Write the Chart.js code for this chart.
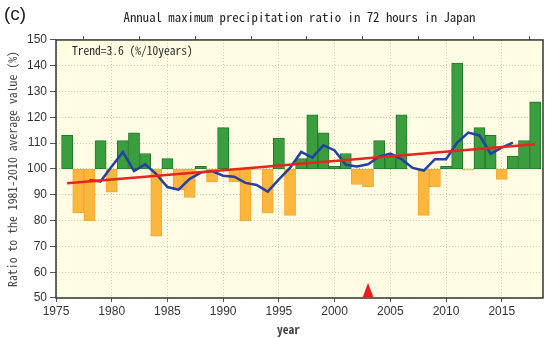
<!DOCTYPE html>
<html>
<head>
<meta charset="utf-8">
<script src="https://cdn.jsdelivr.net/npm/chart.js@4/dist/chart.umd.min.js"></script>
<style>
  html, body { margin: 0; padding: 0; background: #ffffff; }
  #wrap { width: 545px; height: 338px; position: relative; }
</style>
</head>
<body>
<div id="wrap"><canvas id="chart" width="545" height="338"></canvas></div>
<script>
// Annual maximum 72-hour precipitation, ratio to the 1981-2010 average (%)
const years = [1976, 1977, 1978, 1979, 1980, 1981, 1982, 1983, 1984, 1985,
               1986, 1987, 1988, 1989, 1990, 1991, 1992, 1993, 1994, 1995,
               1996, 1997, 1998, 1999, 2000, 2001, 2002, 2003, 2004, 2005,
               2006, 2007, 2008, 2009, 2010, 2011, 2012, 2013, 2014, 2015,
               2016, 2017, 2018];
const ratios = [113, 83, 80, 111, 91, 111, 114, 106, 74, 104,
                92, 89, 101, 95, 116, 95, 80, 99.8, 83, 112,
                82, 104, 121, 114, 101, 106, 94, 93, 111, 105,
                121, 100, 82, 93, 101, 141, 99.5, 116, 113, 96,
                105, 111, 126];

// 5-year running mean
const meanYears = [1978, 1979, 1980, 1981, 1982, 1983, 1984, 1985, 1986, 1987,
                   1988, 1989, 1990, 1991, 1992, 1993, 1994, 1995, 1996, 1997,
                   1998, 1999, 2000, 2001, 2002, 2003, 2004, 2005, 2006, 2007,
                   2008, 2009, 2010, 2011, 2012, 2013, 2014, 2015, 2016];
const meanValues = [95.6, 95.2, 101.0, 106.6, 99.2, 101.8, 98.0, 93.0, 92.0, 96.2,
                    98.6, 99.2, 97.4, 97.0, 94.6, 93.8, 91.2, 96.0, 100.4, 106.6,
                    104.4, 109.2, 107.2, 101.6, 101.0, 101.8, 104.8, 106.0, 103.8, 100.4,
                    99.4, 103.8, 103.8, 110.2, 114.1, 113.0, 105.9, 108.3, 110.2];

// Long-term linear trend (3.6 %/10 years)
const trendYears = [1976, 2018];
const trendValues = [94.5, 109.6];

// Year marked with a triangle on the horizontal axis
const markerYears = [2003];

const xTickValues = [1975, 1980, 1985, 1990, 1995, 2000, 2005, 2010, 2015];
const yTickValues = [50, 60, 70, 80, 90, 100, 110, 120, 130, 140, 150];

const BASE = 100;
const MONO = "'Noto Sans Mono CJK JP', 'DejaVu Sans Mono', monospace";
const SANS = "'Liberation Sans', Arial, sans-serif";

const decor = {
  id: 'decor',
  beforeDraw(chart) {
    const { ctx, chartArea: a } = chart;
    ctx.save();
    ctx.fillStyle = '#fffce3';
    ctx.fillRect(a.left, a.top, a.right - a.left, a.bottom - a.top);
    ctx.restore();
  },
  afterDraw(chart) {
    const { ctx, chartArea: a, scales } = chart;
    ctx.save();
    // plot frame
    ctx.strokeStyle = '#333333';
    ctx.lineWidth = 1.5;
    ctx.strokeRect(a.left, a.top, a.right - a.left, a.bottom - a.top);

    // triangle marker standing on the bottom axis
    ctx.fillStyle = '#ee1c1c';
    markerYears.forEach(yr => {
      const px = scales.x.getPixelForValue(yr);
      const py = scales.y.getPixelForValue(scales.y.min);
      ctx.beginPath();
      ctx.moveTo(px - 5.5, py - 0.5);
      ctx.lineTo(px + 5.5, py - 0.5);
      ctx.lineTo(px, py - 15);
      ctx.closePath();
      ctx.fill();
    });

    // trend annotation
    ctx.fillStyle = '#2a2a2a';
    ctx.textBaseline = 'middle';
    ctx.textAlign = 'left';
    ctx.font = '11.5px ' + MONO;
    ctx.fillText('Trend=3.6 (%/10years)', a.left + 16, a.top + 11);

    // panel label
    ctx.font = '19px ' + SANS;
    ctx.fillStyle = '#222222';
    ctx.fillText('(c)', 4, 15);

    // horizontal axis title
    ctx.font = 'bold 11.5px ' + MONO;
    ctx.fillStyle = '#444444';
    ctx.textAlign = 'center';
    ctx.fillText('year', (a.left + a.right) / 2 - 11, 330);
    ctx.restore();
  }
};

const barData = years.map((yr, i) => ({ x: yr, y: [BASE, ratios[i]] }));
const up = v => v >= BASE;

new Chart(document.getElementById('chart'), {
  type: 'bar',
  data: {
    datasets: [
      {
        type: 'line',
        data: trendYears.map((yr, i) => ({ x: yr, y: trendValues[i] })),
        borderColor: '#e8241c',
        borderWidth: 2.5,
        pointRadius: 0,
        fill: false,
        order: 0
      },
      {
        type: 'line',
        data: meanYears.map((yr, i) => ({ x: yr, y: meanValues[i] })),
        borderColor: '#2340a3',
        borderWidth: 2.5,
        pointRadius: 0,
        tension: 0,
        fill: false,
        order: 1
      },
      {
        type: 'bar',
        data: barData,
        backgroundColor: ratios.map(v => up(v) ? '#3a9e3e' : '#fbb63e'),
        borderColor: ratios.map(v => up(v) ? '#23782a' : '#f5a731'),
        borderWidth: 1,
        borderSkipped: false,
        barPercentage: 1,
        categoryPercentage: 1,
        order: 2
      }
    ]
  },
  options: {
    responsive: false,
    animation: false,
    layout: { padding: { left: 0, right: 2, top: 0, bottom: 0 } },
    plugins: {
      legend: { display: false },
      tooltip: { enabled: false },
      title: {
        display: true,
        fullSize: false,
        text: 'Annual maximum precipitation ratio in 72 hours in Japan',
        color: '#222222',
        font: { family: MONO, size: 12.8, weight: 'normal', lineHeight: 1.2 },
        padding: { top: 9, bottom: 11.6 }
      }
    },
    scales: {
      x: {
        type: 'linear',
        position: 'bottom',
        min: 1975,
        max: 2018.7,
        offset: false,
        afterBuildTicks: s => { s.ticks = xTickValues.map(v => ({ value: v })); },
        afterFit: s => { s.height = 40; },
        grid: { offset: false, color: '#cdc8ae', lineWidth: 1, tickLength: 4, tickColor: '#555555' },
        border: { display: false, dash: [1, 2] },
        ticks: {
          autoSkip: false, maxRotation: 0, padding: 2, color: '#333333',
          font: { family: SANS, size: 12 },
          callback: v => String(v)
        }
      },
      xTop: {
        type: 'linear',
        position: 'top',
        min: 1975,
        max: 2018.7,
        offset: false,
        afterBuildTicks: s => { s.ticks = xTickValues.map(v => ({ value: v })); },
        afterFit: s => { s.height = 4; },
        grid: { drawOnChartArea: false, tickLength: 4, tickColor: '#555555' },
        border: { display: false },
        ticks: { display: false }
      },
      y: {
        min: 50,
        max: 150,
        afterBuildTicks: s => { s.ticks = yTickValues.map(v => ({ value: v })); },
        afterFit: s => { s.width = 56; },
        grid: { color: '#cdc8ae', lineWidth: 1, tickLength: 6, tickColor: '#555555' },
        border: { display: false, dash: [1, 2] },
        ticks: { padding: 3, color: '#333333', font: { family: SANS, size: 12 } },
        title: {
          display: true,
          text: 'Ratio to the 1981-2010 average value (%)',
          color: '#444444',
          font: { family: MONO, size: 11.8, lineHeight: 1.2 },
          padding: { top: 5.5, bottom: 0 }
        }
      }
    }
  },
  plugins: [decor]
});
</script>
</body>
</html>
